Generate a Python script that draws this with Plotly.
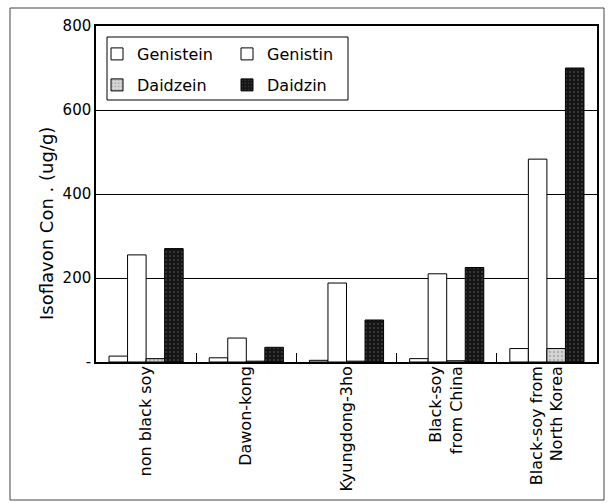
import plotly.graph_objects as go

categories = ["non black soy", "Dawon-kong", "Kyungdong-3ho",
              "Black-soy<br>from China", "Black-soy from<br>North Korea"]
genistein = [14, 10, 4, 8, 32]
genistin = [255, 57, 188, 210, 483]
daidzein = [8, 2, 2, 3, 32]
daidzin = [270, 35, 100, 225, 700]
y_tickvals = [0, 200, 400, 600, 800]
y_ticktext = ["-", "200", "400", "600", "800"]
y_title = "Isoflavon Con . (ug/g)"

FONT = "DejaVu Sans"

fig = go.Figure()
series = [
    ("Genistein", genistein, dict(color="white"), "legend"),
    ("Genistin", genistin, dict(color="white"), "legend2"),
    ("Daidzein", daidzein, dict(color="#d6d6d6",
                                pattern=dict(shape=".", fgcolor="#8a8a8a", size=4, solidity=0.3)), "legend3"),
    ("Daidzin", daidzin, dict(color="#151515",
                              pattern=dict(shape=".", fgcolor="#6a6a6a", size=4, solidity=0.2)), "legend4"),
]
for name, vals, mk, lg in series:
    mk = dict(mk)
    mk["line"] = dict(color="black", width=1)
    fig.add_trace(go.Bar(x=categories, y=vals, name=name, marker=mk, legend=lg,
                         hoverinfo="skip"))

def px2x(px):
    return (px - 96) / 501

def px2y(py):
    return (362 - py) / 336

leg_common = dict(bgcolor="rgba(0,0,0,0)", borderwidth=0,
                  font=dict(family=FONT, size=16, color="black"),
                  xanchor="left", yanchor="middle", itemwidth=30)
fig.update_layout(
    legend=dict(x=px2x(97), y=px2y(54), **leg_common),
    legend2=dict(x=px2x(227), y=px2y(54), **leg_common),
    legend3=dict(x=px2x(97), y=px2y(85), **leg_common),
    legend4=dict(x=px2x(227), y=px2y(85), **leg_common),
)

fig.update_layout(
    width=616, height=503,
    margin=dict(l=96, r=19, t=26, b=141),
    paper_bgcolor="white", plot_bgcolor="white",
    barmode="group", bargap=0.26, bargroupgap=0,
    font=dict(family=FONT, size=14, color="black"),
    showlegend=True,
    xaxis=dict(showline=True, linecolor="black", linewidth=1.5, mirror=True,
               ticks="inside", tickson="boundaries", ticklen=9, tickcolor="black",
               tickangle=-90, tickfont=dict(family=FONT, size=16),
               ticklabelstandoff=-4,
               showgrid=False, automargin=False),
    yaxis=dict(range=[0, 800], tickvals=y_tickvals, ticktext=y_ticktext,
               showline=True, linecolor="black", linewidth=1.5, mirror=True,
               showgrid=True, gridcolor="black", gridwidth=1, ticks="",
               zeroline=False, tickfont=dict(family=FONT, size=15), automargin=False),
    annotations=[
        dict(text=y_title, xref="paper", yref="paper", x=px2x(46), y=px2y(224),
             xanchor="center", yanchor="middle", textangle=-90, showarrow=False,
             font=dict(family=FONT, size=18, color="black")),
    ],
    shapes=[
        dict(type="rect", xref="paper", yref="paper",
             x0=px2x(107), x1=px2x(348), y0=px2y(100), y1=px2y(37),
             line=dict(color="black", width=1), fillcolor="white", layer="above"),
        dict(type="rect", xref="paper", yref="paper",
             x0=px2x(10), x1=px2x(604), y0=px2y(500), y1=px2y(8),
             line=dict(color="#444", width=1)),
    ],
)

fig.write_html("out.html", config={"displayModeBar": False},
               post_script="document.body.style.margin='0';document.body.style.overflow='hidden';")
